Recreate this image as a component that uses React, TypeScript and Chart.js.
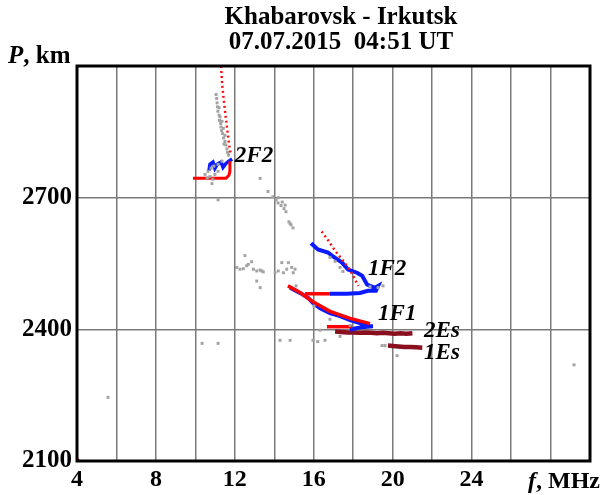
import React, { useEffect, useRef } from "react";
import { Chart, registerables } from "chart.js";

Chart.register(...registerables);

const TITLE_LINES = ["Khabarovsk - Irkutsk", "07.07.2015  04:51 UT"];
const X_MIN = 4;
const X_MAX = 30;
const X_STEP = 2;
const X_LABELED = [4, 8, 12, 16, 20, 24];
const Y_MIN = 2100;
const Y_MAX = 3000;
const Y_STEP = 300;
const Y_LABELED = [2100, 2400, 2700];

// observed (gray) points: [f MHz, P km]
const grayPoints: [number, number][] = [
  [11.05, 2935], [11.08, 2926], [11.1, 2916], [11.12, 2907], [11.14, 2897], [11.2, 2888],
  [11.25, 2884], [11.22, 2876], [11.28, 2869], [11.3, 2861], [11.33, 2853], [11.38, 2846],
  [11.43, 2836], [11.5, 2828], [11.55, 2820], [11.6, 2811], [11.63, 2803], [11.68, 2797],
  [11.42, 2858], [11.5, 2842], [11.2, 2905], [11.35, 2874], [11.45, 2822],
  [10.64, 2760], [10.79, 2767], [10.94, 2772], [11.15, 2776], [11.35, 2783], [10.74, 2748],
  [10.89, 2742], [10.99, 2753], [11.15, 2760], [10.84, 2732], [10.49, 2753], [10.6, 2745],
  [11.15, 2695], [13.28, 2744], [13.68, 2714], [13.93, 2702], [14.09, 2695], [14.19, 2688],
  [14.34, 2682], [14.49, 2675], [14.59, 2668], [14.2, 2700], [14.4, 2690], [14.55, 2683],
  [14.74, 2645], [14.85, 2638], [14.95, 2631], [14.8, 2641],
  [12.09, 2541], [12.26, 2537], [12.43, 2538], [12.51, 2568], [12.6, 2545], [12.68, 2548],
  [12.85, 2554], [12.94, 2537], [13.11, 2533], [13.28, 2535], [13.44, 2531], [13.11, 2510],
  [13.36, 2533], [14.04, 2529], [14.2, 2533], [14.38, 2552], [14.46, 2529], [14.63, 2537],
  [14.71, 2552], [14.88, 2541], [14.96, 2529], [15.05, 2537], [13.28, 2495],
  [16.82, 2564], [17.08, 2555], [17.33, 2541], [17.48, 2532], [18.85, 2497], [19.26, 2495],
  [19.51, 2499],
  [15.1, 2499], [16.01, 2453], [16.82, 2423], [17.84, 2409], [16.32, 2398],
  [14.29, 2375], [14.8, 2375], [15.96, 2375], [16.2, 2372], [16.57, 2375], [17.33, 2384],
  [19.46, 2363], [19.61, 2363], [20.22, 2340],
  [10.34, 2368], [11.15, 2368], [5.57, 2245], [29.19, 2319],
];

// model curves (red)
const red2F2Dotted: [number, number][] = [
  [11.3, 3000], [11.36, 2956], [11.47, 2910], [11.59, 2864], [11.72, 2818], [11.79, 2799],
];
const red2F2Solid: [number, number][] = [
  [9.88, 2744], [11.55, 2744], [11.7, 2751], [11.75, 2760], [11.75, 2783],
];
const red1F2Dotted: [number, number][] = [
  [16.4, 2623], [16.74, 2602], [17.08, 2579], [17.42, 2560], [17.75, 2541], [18.0, 2522],
  [18.17, 2506], [18.26, 2499],
];
const red1F2Solid: [number, number][] = [[15.56, 2481], [16.82, 2481]];
const red1F1Solid: [number, number][] = [
  [14.69, 2499], [15.3, 2484], [15.96, 2463], [16.82, 2441], [17.84, 2425], [18.85, 2413],
];
const redEsSolid: [number, number][] = [[16.67, 2406], [17.94, 2406]];
const redCorner: [number, number][] = [[4.05, 2103]];

// observed traces (blue)
const blue2F2: [number, number][] = [
  [10.69, 2762], [10.74, 2776], [10.89, 2781], [10.99, 2767], [11.1, 2776], [11.3, 2781],
  [11.4, 2769], [11.55, 2778], [11.7, 2783], [11.86, 2788],
];
const blue1F2: [number, number][] = [
  [15.86, 2596], [16.21, 2582], [16.72, 2575], [16.92, 2568], [17.43, 2552], [17.74, 2536],
  [18.19, 2529], [18.45, 2522], [18.7, 2502], [18.85, 2499], [19.1, 2495], [19.26, 2499],
  [19.15, 2488], [18.75, 2488], [18.34, 2483], [17.68, 2481], [16.82, 2481],
];
const blue1F1: [number, number][] = [
  [14.8, 2495], [15.3, 2483], [15.71, 2472], [15.96, 2460], [16.32, 2448], [16.82, 2437],
  [17.33, 2430], [17.84, 2421], [18.34, 2414], [18.75, 2407], [19.0, 2407], [18.45, 2405],
  [18.09, 2402], [17.84, 2398],
];

// sporadic E traces (dark red)
const es2: [number, number][] = [
  [17.08, 2395], [17.4, 2394], [17.7, 2393], [18.0, 2393], [18.3, 2392], [18.6, 2393],
  [18.9, 2392], [19.2, 2391], [19.5, 2392], [19.8, 2391], [20.1, 2390], [20.4, 2391],
  [20.7, 2390], [21.0, 2391],
];
const es1: [number, number][] = [
  [19.76, 2363], [20.0, 2362], [20.3, 2361], [20.6, 2360], [20.9, 2360], [21.2, 2359],
  [21.5, 2358],
];

const curveLabels: { text: string; f: number; p: number }[] = [
  { text: "2F2", f: 12.0, p: 2795 },
  { text: "1F2", f: 18.75, p: 2538 },
  { text: "1F1", f: 19.26, p: 2435 },
  { text: "2Es", f: 21.59, p: 2395 },
  { text: "1Es", f: 21.59, p: 2345 },
];

const SERIF = '"Liberation Serif", "Times New Roman", serif';

const toXY = (arr: [number, number][]) => arr.map(([x, y]) => ({ x, y }));

function drawMixed(ctx: CanvasRenderingContext2D, parts: [string, string][], x: number, y: number) {
  let cx = x;
  for (const [t, f] of parts) {
    ctx.font = f;
    ctx.fillText(t, cx, y);
    cx += ctx.measureText(t).width;
  }
}

const overlayPlugin = {
  id: "overlayText",
  afterDatasetsDraw(chart: any) {
    const { ctx, chartArea: a, scales } = chart;
    ctx.save();
    ctx.strokeStyle = "#000";
    ctx.lineWidth = 3;
    ctx.strokeRect(a.left, a.top, a.right - a.left, a.bottom - a.top);

    ctx.fillStyle = "#000";
    ctx.textAlign = "left";
    ctx.textBaseline = "middle";
    ctx.font = `italic bold 23px ${SERIF}`;
    for (const l of curveLabels) {
      ctx.fillText(l.text, scales.x.getPixelForValue(l.f), scales.y.getPixelForValue(l.p));
    }

    ctx.textAlign = "center";
    ctx.textBaseline = "alphabetic";
    ctx.font = `bold 25px ${SERIF}`;
    ctx.fillText(TITLE_LINES[0], 341, 24);
    ctx.fillText(TITLE_LINES[1], 341, 49);

    ctx.textAlign = "left";
    drawMixed(ctx, [["P", `italic bold 25px ${SERIF}`], [", km", `bold 25px ${SERIF}`]], 8, 63);
    drawMixed(ctx, [["f", `italic bold 24px ${SERIF}`], [", MHz", `bold 24px ${SERIF}`]], 528, 488);
    ctx.restore();
  },
};

export default function App() {
  const ref = useRef<HTMLCanvasElement | null>(null);

  useEffect(() => {
    document.body.style.margin = "0";
    const canvas = ref.current;
    if (!canvas) return;

    const line = (data: [number, number][], color: string, width: number, dash: number[] = []) => ({
      data: toXY(data),
      showLine: true,
      borderColor: color,
      backgroundColor: color,
      borderWidth: width,
      borderDash: dash,
      pointRadius: 0,
      fill: false,
      tension: 0,
    });

    const chart = new Chart(canvas, {
      type: "scatter",
      data: {
        datasets: [
          {
            data: toXY(grayPoints),
            pointStyle: "rect",
            pointRadius: 2.1,
            backgroundColor: "#a3a3a3",
            borderWidth: 0,
            showLine: false,
          } as any,
          line(red2F2Dotted, "#ff1010", 2.5, [2, 3]),
          line(red1F2Dotted, "#ff1010", 2.5, [2, 3]),
          line(red2F2Solid, "#ff0000", 3),
          line(red1F2Solid, "#ff0000", 3.5),
          line(red1F1Solid, "#ff0000", 3.5),
          line(redEsSolid, "#ff0000", 3.5),
          {
            data: toXY(redCorner),
            pointRadius: 1.5,
            backgroundColor: "#ff0000",
            borderWidth: 0,
          } as any,
          line(blue2F2, "#0a1aff", 3.5),
          line(blue1F2, "#0a1aff", 4),
          line(blue1F1, "#0a1aff", 4),
          line(es2, "#8a1020", 4.5),
          line(es1, "#8a1020", 4.5),
        ],
      },
      options: {
        animation: false,
        responsive: false,
        devicePixelRatio: 1,
        layout: { padding: { left: 0, right: 24, top: 66, bottom: 0 } },
        plugins: {
          legend: { display: false },
          title: { display: false },
          tooltip: { enabled: false },
        },
        scales: {
          x: {
            type: "linear",
            min: X_MIN,
            max: X_MAX,
            border: { display: false },
            grid: { color: "#7a7a7a", lineWidth: 1.5, drawTicks: false },
            ticks: {
              stepSize: X_STEP,
              autoSkip: false,
              maxRotation: 0,
              padding: 4,
              color: "#000",
              font: { family: SERIF, size: 24, weight: "bold" },
              callback: (v: any) => (X_LABELED.includes(Number(v)) ? String(v) : ""),
            },
            afterFit: (s: any) => {
              s.height = 34;
            },
          },
          y: {
            type: "linear",
            min: Y_MIN,
            max: Y_MAX,
            border: { display: false },
            grid: { color: "#7a7a7a", lineWidth: 1.5, drawTicks: false },
            ticks: {
              stepSize: Y_STEP,
              autoSkip: false,
              padding: 5,
              color: "#000",
              font: { family: SERIF, size: 25, weight: "bold" },
              callback: (v: any) => (Y_LABELED.includes(Number(v)) ? String(v) : ""),
            },
            afterFit: (s: any) => {
              s.width = 77;
            },
          },
        },
      } as any,
      plugins: [overlayPlugin],
    });

    return () => chart.destroy();
  }, []);

  return (
    <div style={{ position: "absolute", left: 0, top: 0, width: 614, height: 495, background: "#fff" }}>
      <canvas ref={ref} width={614} height={495} style={{ display: "block" }} />
    </div>
  );
}
